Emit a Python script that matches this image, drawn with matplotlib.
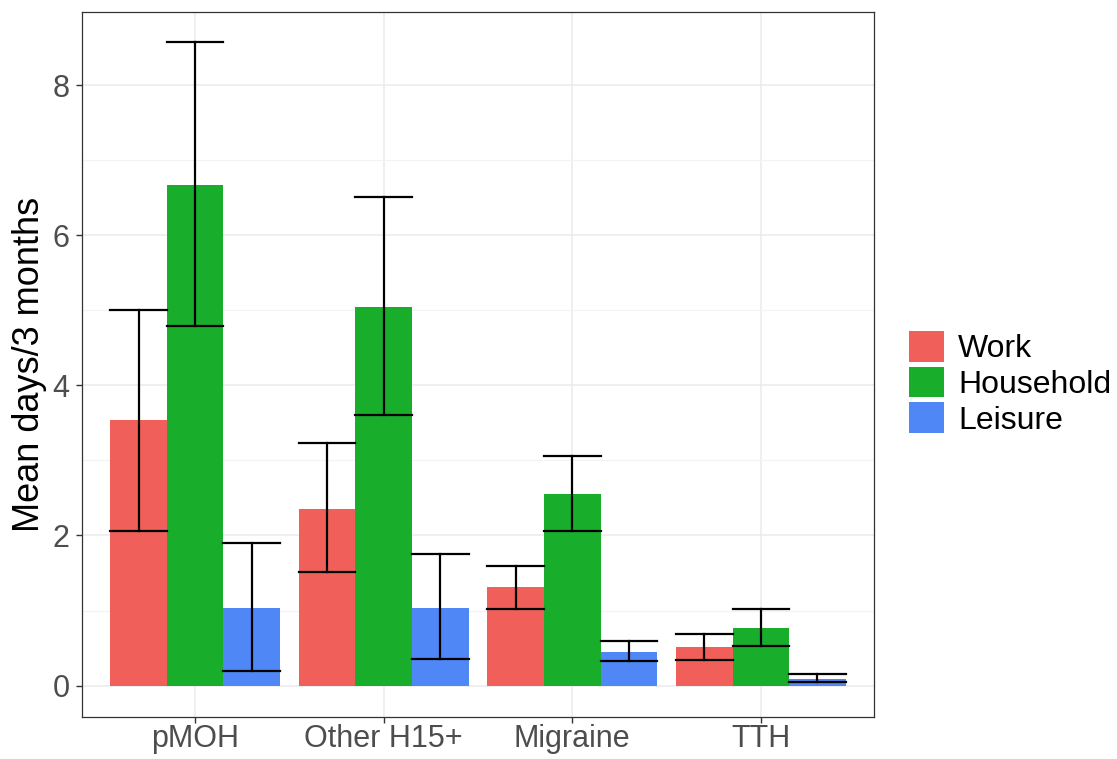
import numpy as np
import matplotlib.pyplot as plt
from matplotlib.patches import Patch

categories = ["pMOH", "Other H15+", "Migraine", "TTH"]
groups = ["Work", "Household", "Leisure"]
colors = ["#F05F5A", "#19AD2C", "#4F87F7"]

means = {
    "Work":      [3.54, 2.35, 1.31, 0.52],
    "Household": [6.67, 5.05, 2.55, 0.77],
    "Leisure":   [1.04, 1.04, 0.45, 0.09],
}
lower = {
    "Work":      [2.06, 1.52, 1.02, 0.34],
    "Household": [4.79, 3.61, 2.06, 0.53],
    "Leisure":   [0.20, 0.36, 0.33, 0.05],
}
upper = {
    "Work":      [5.01, 3.23, 1.60, 0.69],
    "Household": [8.58, 6.51, 3.06, 1.02],
    "Leisure":   [1.90, 1.75, 0.60, 0.16],
}

plt.rcParams['font.family'] = ['Liberation Sans', 'DejaVu Sans']

fig = plt.figure(figsize=(11.17, 7.59), dpi=100)
ax = fig.add_axes([0.0734, 0.0553, 0.709, 0.929])

x = np.arange(1, len(categories) + 1)
bw = 0.3
for i, g in enumerate(groups):
    xs = x + (i - 1) * bw
    ax.bar(xs, means[g], width=bw, color=colors[i], zorder=2)
    for xi, lo, hi in zip(xs, lower[g], upper[g]):
        ax.plot([xi, xi], [lo, hi], color="black", lw=1.6, zorder=3)
        ax.plot([xi - bw / 2, xi + bw / 2], [lo, lo], color="black", lw=1.6, zorder=3)
        ax.plot([xi - bw / 2, xi + bw / 2], [hi, hi], color="black", lw=1.6, zorder=3)

ax.set_xlim(0.4, 4.6)
ax.set_ylim(-0.42, 8.98)
ax.set_xticks(x)
ax.set_xticklabels(categories)
ax.set_yticks([0, 2, 4, 6, 8])
ax.set_yticks([1, 3, 5, 7], minor=True)
ax.grid(which="major", color="#EBEBEB", lw=1.1, zorder=0)
ax.grid(which="minor", axis="y", color="#F3F3F3", lw=0.8, zorder=0)
ax.set_axisbelow(True)
ax.tick_params(axis="both", which="major", labelsize=22, colors="#333333",
               labelcolor="#4D4D4D", length=4, width=1)
ax.tick_params(axis="x", which="major", pad=1)
ax.tick_params(axis="y", which="major", pad=5)
ax.tick_params(axis="y", which="minor", length=0)
for s in ax.spines.values():
    s.set_color("#333333")
    s.set_linewidth(0.9)
ax.set_ylabel("Mean days/3 months", fontsize=26, color="black", labelpad=4)

handles = [Patch(facecolor=c, edgecolor="none") for c in colors]
fig.legend(handles, groups, loc="center left", bbox_to_anchor=(0.802, 0.495),
           frameon=False, fontsize=23, handlelength=1.1, handleheight=1.1,
           handletextpad=0.45, labelspacing=0.08, borderaxespad=0)

fig.savefig("out.png", dpi=100)
